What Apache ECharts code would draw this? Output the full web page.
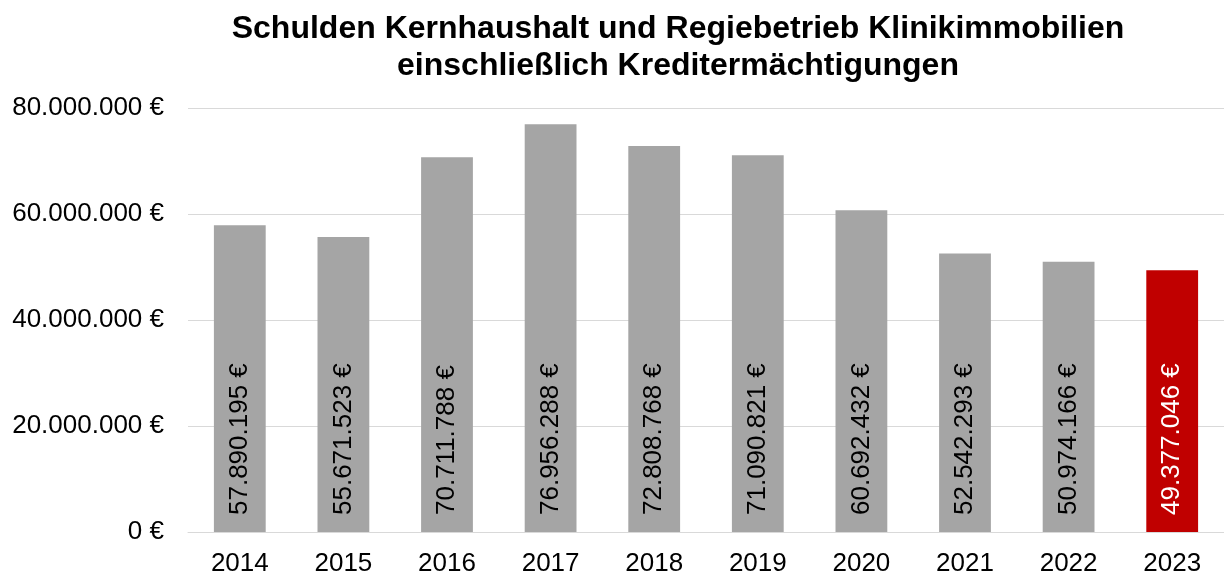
<!DOCTYPE html>
<html>
<head>
<meta charset="utf-8">
<script src="https://cdn.jsdelivr.net/npm/echarts@6/dist/echarts.min.js"></script>
<style>
  html, body { margin: 0; padding: 0; background: #fff; }
  #chart { width: 1224px; height: 577px; }
</style>
</head>
<body>
<div id="chart"></div>
<script>
var years = ['2014', '2015', '2016', '2017', '2018', '2019', '2020', '2021', '2022', '2023'];
var schulden = [57890195, 55671523, 70711788, 76956288, 72808768, 71090821, 60692432, 52542293, 50974166, 49377046];
var highlightYear = '2023';

function euro(v) {
    var s = String(Math.round(v)).replace(/\B(?=(\d{3})+(?!\d))/g, '.');
    return s + ' €';
}

var dom = document.getElementById('chart');
var myChart = echarts.init(dom);

var barData = schulden.map(function (v, i) {
    var isHi = years[i] === highlightYear;
    return {
        value: v,
        itemStyle: { color: isHi ? '#c00000' : '#a5a5a5' },
        label: { color: isHi ? '#ffffff' : '#000000' }
    };
});

var option = {
    backgroundColor: '#ffffff',
    animation: false,
    textStyle: { fontFamily: 'Liberation Sans, Arial, sans-serif' },
    title: {
        text: 'Schulden Kernhaushalt und Regiebetrieb Klinikimmobilien\neinschließlich Kreditermächtigungen',
        left: 673,
        textAlign: 'center',
        top: 6,
        textStyle: {
            fontSize: 32,
            fontWeight: 'bold',
            color: '#000',
            lineHeight: 37,
            fontFamily: 'Liberation Sans, Arial, sans-serif'
        }
    },
    grid: {
        left: 188,
        right: -4,
        top: 108,
        bottom: 43,
        containLabel: false
    },
    xAxis: {
        type: 'category',
        data: years,
        axisLine: { lineStyle: { color: '#d9d9d9', width: 1 } },
        axisTick: { show: false },
        axisLabel: { fontSize: 26, color: '#000', margin: 19 }
    },
    yAxis: {
        type: 'value',
        min: 0,
        max: 80000000,
        interval: 20000000,
        axisLine: { show: false },
        axisTick: { show: false },
        splitLine: { lineStyle: { color: '#d9d9d9', width: 1 } },
        axisLabel: {
            fontSize: 26,
            color: '#000',
            margin: 24,
            formatter: function (v) { return euro(v); }
        }
    },
    series: [{
        type: 'bar',
        data: barData,
        barWidth: '50%',
        label: {
            show: true,
            position: 'insideBottom',
            rotate: 90,
            align: 'left',
            verticalAlign: 'middle',
            distance: 17,
            fontSize: 26,
            formatter: function (p) { return euro(p.value); }
        }
    }]
};

myChart.setOption(option);
window.onresize = function () {
    myChart.resize();
};
</script>
</body>
</html>
